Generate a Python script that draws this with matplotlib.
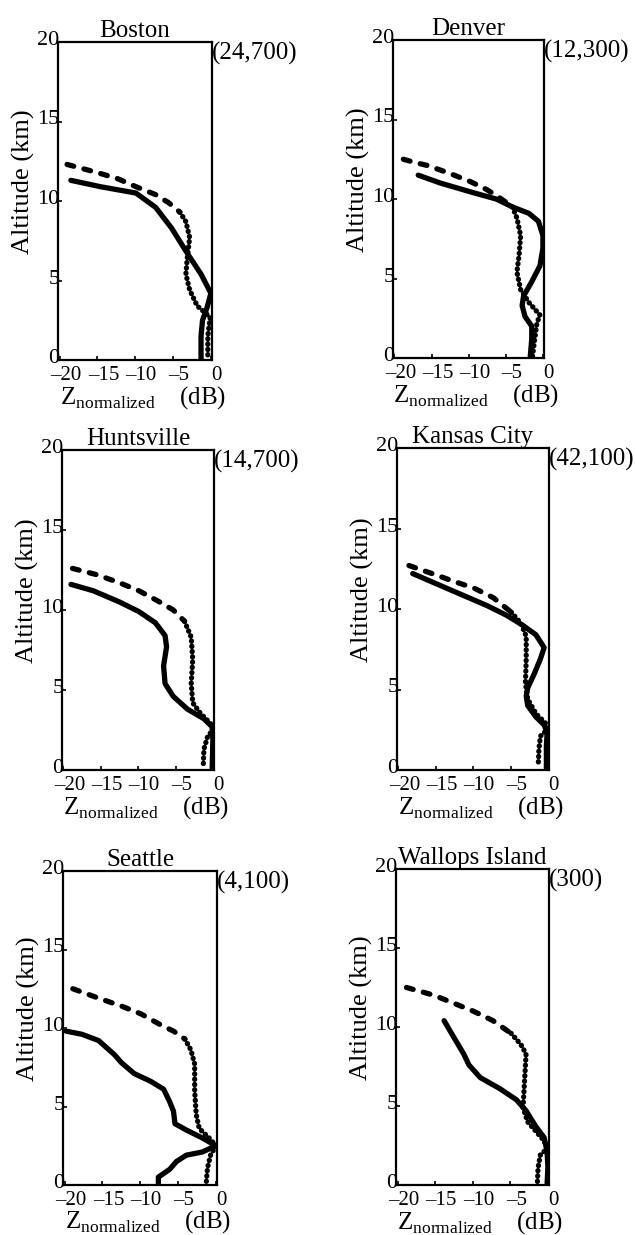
import numpy as np
import matplotlib.pyplot as plt
import matplotlib.transforms as mtransforms

plt.rcParams['font.family'] = 'Liberation Serif'
plt.rcParams['mathtext.fontset'] = 'custom'
plt.rcParams['mathtext.rm'] = 'Liberation Serif'

cities = ['Boston', 'Denver', 'Huntsville', 'Kansas City', 'Seattle', 'Wallops Island']
counts = ['(24,700)', '(12,300)', '(14,700)', '(42,100)', '(4,100)', '(300)']

x_ticks = [-20, -15, -10, -5, 0]
x_tick_labels = ['\u201320', '\u201315', '\u201310', '\u20135', '0']
y_ticks = [0, 5, 10, 15, 20]

# measured profiles (solid) and model profile (dashed / dotted)
boston_solid_z = [-18.5, -14.6, -9.9, -7.3, -5.2, -3.1, -1.3, 0.0, -0.5, -1.1, -1.3, -1.3]
boston_solid_h = [11.3, 10.9, 10.5, 9.6, 8.3, 6.7, 5.4, 4.2, 3.3, 2.5, 1.5, 0.0]
boston_ref_z = [-19.0, -15.1, -12.3, -9.9, -7.3, -5.6, -4.1, -3.3, -2.8, -3.1, -3.3, -2.8, -1.8, -0.1, -0.4, -0.4]
boston_ref_h = [12.3, 11.8, 11.4, 10.9, 10.4, 9.9, 9.3, 8.7, 7.7, 6.5, 5.4, 4.4, 3.4, 2.7, 1.5, 0.2]

denver_solid_z = [-16.8, -13.8, -9.4, -6.3, -4.1, -1.9, -0.6, 0.0, 0.0, -0.4, -1.5, -2.6, -2.8, -2.4, -1.5, -1.5, -1.7]
denver_solid_h = [11.5, 11.0, 10.4, 10.0, 9.5, 9.1, 8.6, 7.7, 6.9, 5.8, 4.8, 3.9, 3.3, 2.6, 2.0, 1.2, 0.1]
denver_ref_z = [-18.8, -17.3, -15.5, -12.5, -9.8, -7.6, -5.9, -4.1, -3.5, -3.0, -3.2, -3.5, -3.0, -1.9, -0.4, -0.8, -1.1, -1.4]
denver_ref_h = [12.5, 12.3, 12.1, 11.6, 11.1, 10.6, 10.1, 9.5, 8.8, 7.7, 6.5, 5.4, 4.3, 3.5, 2.7, 2.2, 1.2, 0.1]

huntsville_solid_z = [-19.0, -16.0, -12.5, -9.9, -7.7, -6.4, -6.2, -6.6, -6.4, -5.3, -3.4, -1.2, -0.1, 0.0, -0.1]
huntsville_solid_h = [11.6, 11.2, 10.5, 9.9, 9.2, 8.4, 7.7, 6.5, 5.4, 4.6, 3.8, 3.2, 2.7, 1.9, 0.0]
huntsville_ref_z = [-18.8, -15.5, -12.5, -9.9, -7.5, -5.3, -3.8, -2.9, -2.7, -2.9, -2.7, -1.6, -0.3, 0.0, -0.7, -1.2, -1.3]
huntsville_ref_h = [12.6, 12.2, 11.7, 11.2, 10.6, 10.0, 9.3, 8.3, 6.9, 5.4, 4.2, 3.5, 2.9, 2.5, 2.1, 1.3, 0.1]

kc_solid_z = [-18.1, -15.1, -11.6, -8.1, -5.5, -3.4, -1.6, -0.5, -1.0, -1.8, -2.7, -2.9, -2.7, -1.6, -0.5, -0.1, -0.2, -0.2]
kc_solid_h = [12.2, 11.6, 10.9, 10.2, 9.6, 9.0, 8.4, 7.6, 6.9, 6.0, 5.1, 4.6, 4.0, 3.3, 2.8, 2.3, 1.5, 0.1]
kc_ref_z = [-18.6, -15.5, -12.5, -9.9, -7.3, -4.9, -3.6, -2.9, -2.9, -3.0, -2.7, -1.6, -0.3, -0.1, -1.0, -1.2, -1.3]
kc_ref_h = [12.7, 12.2, 11.7, 11.3, 10.7, 9.8, 9.1, 8.3, 6.9, 5.4, 4.4, 3.5, 2.9, 2.5, 2.1, 1.3, 0.2]

seattle_solid_z = [-19.8, -17.7, -15.5, -13.4, -12.5, -10.8, -8.6, -6.9, -6.1, -5.6, -5.4, -3.9, -1.8, 0.0, -1.8, -3.9, -5.2, -6.1, -7.6, -7.6]
seattle_solid_h = [9.8, 9.6, 9.2, 8.3, 7.8, 7.1, 6.6, 6.1, 5.3, 4.7, 3.9, 3.5, 3.0, 2.5, 2.1, 1.9, 1.5, 1.0, 0.5, 0.1]
seattle_ref_z = [-18.9, -15.5, -12.5, -9.9, -7.3, -5.6, -4.1, -3.3, -2.8, -2.8, -2.6, -2.2, -0.9, 0.0, -0.7, -1.1, -1.3]
seattle_ref_h = [12.5, 11.9, 11.4, 10.9, 10.2, 9.8, 9.3, 8.6, 7.7, 6.0, 4.5, 3.6, 3.0, 2.5, 1.9, 1.1, 0.0]

wallops_solid_z = [-13.8, -12.7, -11.2, -10.5, -9.0, -6.4, -4.2, -2.9, -1.6, -0.5, -0.1, 0.0, -0.1]
wallops_solid_h = [10.4, 9.5, 8.3, 7.6, 6.8, 6.1, 5.4, 4.7, 3.7, 3.0, 2.1, 1.1, 0.1]
wallops_ref_z = [-18.8, -17.3, -15.1, -12.5, -9.9, -7.3, -4.9, -3.6, -2.9, -3.1, -3.3, -2.7, -1.6, -0.5, -0.1, -1.0, -1.3, -1.4]
wallops_ref_h = [12.5, 12.3, 12.0, 11.5, 11.0, 10.4, 9.6, 8.9, 8.3, 6.6, 4.9, 4.0, 3.4, 2.8, 2.3, 1.9, 1.1, 0.1]

solids = [(boston_solid_z, boston_solid_h), (denver_solid_z, denver_solid_h),
          (huntsville_solid_z, huntsville_solid_h), (kc_solid_z, kc_solid_h),
          (seattle_solid_z, seattle_solid_h), (wallops_solid_z, wallops_solid_h)]
refs = [(boston_ref_z, boston_ref_h), (denver_ref_z, denver_ref_h),
        (huntsville_ref_z, huntsville_ref_h), (kc_ref_z, kc_ref_h),
        (seattle_ref_z, seattle_ref_h), (wallops_ref_z, wallops_ref_h)]

# axes rectangles in pixels: left, top, right, bottom
W, H = 635, 1235
boxes = [(58, 42, 212, 360), (393, 40, 544, 358),
         (62, 450, 214, 770), (397, 448, 549, 770),
         (63, 871, 217, 1185), (396, 869, 549, 1185)]

fig = plt.figure(figsize=(W / 100, H / 100), dpi=100)

split_h = 9.2
shift_x = mtransforms.ScaledTranslation(6 / 100, 0, fig.dpi_scale_trans)
shift_y = mtransforms.ScaledTranslation(0, 4 / 100, fig.dpi_scale_trans)

for i in range(6):
    l, t, r, b = boxes[i]
    ax = fig.add_axes([l / W, 1 - b / H, (r - l) / W, (b - t) / H])
    sz, sh = solids[i]
    rz, rh = np.array(refs[i][0]), np.array(refs[i][1])

    ax.plot(sz, sh, color='black', lw=3.8, solid_capstyle='round', solid_joinstyle='round')
    k = int(np.sum(rh >= split_h))
    ax.plot(rz[:k], rh[:k], color='black', lw=3.8,
            linestyle=(0, (1.3, 2.0)), dash_capstyle='round')
    ax.plot(rz[k - 1:], rh[k - 1:], color='black', lw=3.8,
            linestyle=(0, (0.05, 0.95)), dash_capstyle='round')

    ax.set_xlim(-20.2, 0.15)
    ax.set_ylim(0, 20)
    ax.set_xticks(x_ticks)
    ax.set_xticklabels(x_tick_labels)
    ax.set_yticks(y_ticks)
    ax.tick_params(axis='both', direction='in', length=3, width=1.2)
    ax.tick_params(axis='y', pad=-1, labelsize=16)
    ax.tick_params(axis='x', pad=4, labelsize=15)
    for lab in ax.get_xticklabels():
        lab.set_transform(lab.get_transform() + shift_x)
    for lab in ax.get_yticklabels():
        lab.set_transform(lab.get_transform() + shift_y)
    for s in ax.spines.values():
        s.set_linewidth(1.6)

    ax.set_title(cities[i], fontsize=18, pad=3)
    ax.text(1.0, 1.0, counts[i], transform=ax.transAxes, ha='left', va='top', fontsize=18)
    ax.set_ylabel('Altitude (km)', fontsize=19)
    ax.yaxis.set_label_coords(-0.15, 0.56)
    ax.set_xlabel(r'$\mathrm{Z}_{\mathrm{normalized}}\quad\mathrm{(dB)}$', fontsize=18)
    ax.xaxis.set_label_coords(0.55, -0.075)

fig.savefig('out.png', dpi=100)
